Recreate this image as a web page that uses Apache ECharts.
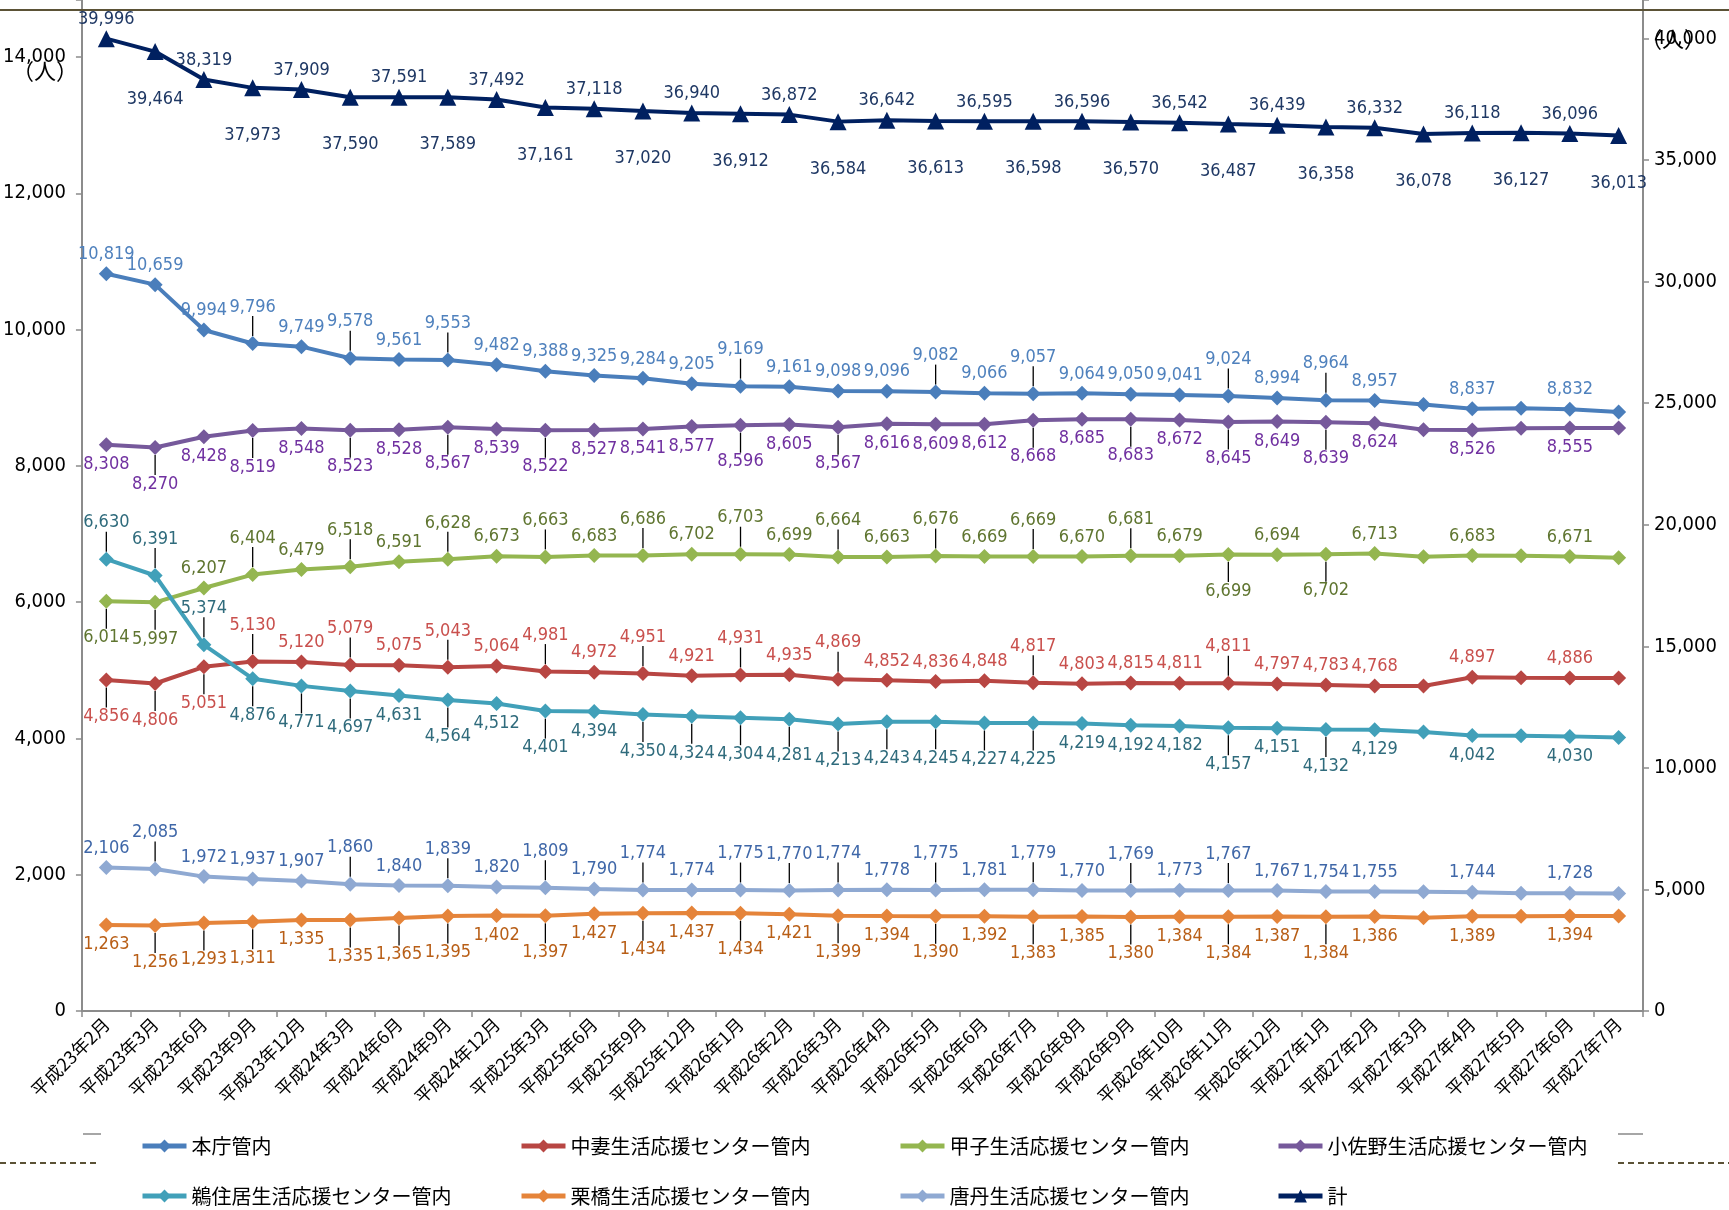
<!DOCTYPE html>
<html><head><meta charset="utf-8">
<script src="https://cdn.jsdelivr.net/npm/echarts@6/dist/echarts.min.js"></script>
<style>html,body{margin:0;padding:0;background:#fff}#c{width:1729px;height:1210px}</style>
</head><body><div id="c"></div>
<script>
const categories = ['平成23年2月','平成23年3月','平成23年6月','平成23年9月','平成23年12月','平成24年3月','平成24年6月','平成24年9月','平成24年12月','平成25年3月','平成25年6月','平成25年9月','平成25年12月','平成26年1月','平成26年2月','平成26年3月','平成26年4月','平成26年5月','平成26年6月','平成26年7月','平成26年8月','平成26年9月','平成26年10月','平成26年11月','平成26年12月','平成27年1月','平成27年2月','平成27年3月','平成27年4月','平成27年5月','平成27年6月','平成27年7月'];
const honcho    = [10819,10659,9994,9796,9749,9578,9561,9553,9482,9388,9325,9284,9205,9169,9161,9098,9096,9082,9066,9057,9064,9050,9041,9024,8994,8964,8957,8900,8837,8845,8832,8790];
const nakazuma  = [4856,4806,5051,5130,5120,5079,5075,5043,5064,4981,4972,4951,4921,4931,4935,4869,4852,4836,4848,4817,4803,4815,4811,4811,4797,4783,4768,4770,4897,4890,4886,4885];
const kasshi    = [6014,5997,6207,6404,6479,6518,6591,6628,6673,6663,6683,6686,6702,6703,6699,6664,6663,6676,6669,6669,6670,6681,6679,6699,6694,6702,6713,6665,6683,6680,6671,6650];
const kosano    = [8308,8270,8428,8519,8548,8523,8528,8567,8539,8522,8527,8541,8577,8596,8605,8567,8616,8609,8612,8668,8685,8683,8672,8645,8649,8639,8624,8530,8526,8552,8555,8555];
const unosumai  = [6630,6391,5374,4876,4771,4697,4631,4564,4512,4401,4394,4350,4324,4304,4281,4213,4243,4245,4227,4225,4219,4192,4182,4157,4151,4132,4129,4093,4042,4040,4030,4014];
const kurihashi = [1263,1256,1293,1311,1335,1335,1365,1395,1402,1397,1427,1434,1437,1434,1421,1399,1394,1390,1392,1383,1385,1380,1384,1384,1387,1384,1386,1370,1389,1392,1394,1393];
const toni      = [2106,2085,1972,1937,1907,1860,1840,1839,1820,1809,1790,1774,1774,1775,1770,1774,1778,1775,1781,1779,1770,1769,1773,1767,1767,1754,1755,1750,1744,1728,1728,1726];
const total     = [39996,39464,38319,37973,37909,37590,37591,37589,37492,37161,37118,37020,36940,36912,36872,36584,36642,36613,36595,36598,36596,36570,36542,36487,36439,36358,36332,36078,36118,36127,36096,36013];
const seriesNames = ['本庁管内','中妻生活応援センター管内','甲子生活応援センター管内','小佐野生活応援センター管内','鵜住居生活応援センター管内','栗橋生活応援センター管内','唐丹生活応援センター管内','計'];
const leftTicks = [0,2000,4000,6000,8000,10000,12000,14000];
const rightTicks = [0,5000,10000,15000,20000,25000,30000,35000,40000];

// label placement codes (style): a=above, A=above far w/ leader, b=below, B=below far, -=none
const codes = {
  honcho:   'aaaAaAaAaa'+'aaaAaaaAaA'+'aaaAaAa-a-'+'a-',
  nakazuma: 'BBBAaAaAaA'+'aAaAaAaaaA'+'aaaAaaa-a-'+'a-',
  kasshi:   'BBaAaAaAaA'+'aAaAaAaAaA'+'aAaBaBa-a-'+'a-',
  kosano:   'bBbBbBbBbB'+'bbbBbBbbbB'+'bBbBbBb-b-'+'b-',
  unosumai: 'AAABBBbBbB'+'bBBBBBBBBB'+'bbbBbBb-b-'+'b-',
  kurihashi:'bBBBbBBBbB'+'bBbBbBbBbB'+'bBbBbBb-b-'+'b-',
  toni:     'aAaaaAaAaA'+'aAaAAAaAaA'+'aAaAaaa-a-'+'a-',
  total:    'abababababababababababababababab'
};

const NUMFONT = '"Liberation Sans Narrow","DejaVu Sans Condensed","Roboto Condensed","Liberation Sans",sans-serif';
const JPFONT = '"Noto Sans CJK JP",sans-serif';
const fmt = v => v.toLocaleString('en-US');

function mk(name, data, code, color, labelColor, symbol, symbolSize, yAxisIndex, distTop, distBottom) {
  const FAR = 17;
  return {
    name, type: 'line', yAxisIndex, symbol, symbolSize,
    lineStyle: {color, width: 4},
    itemStyle: {color},
    data: data.map((v, i) => {
      const c = code[i];
      if (c === '-') return {value: v, label: {show: false}};
      const up = (c === 'a' || c === 'A');
      const far = (c === 'A' || c === 'B');
      return {value: v, label: {show: true, position: up ? 'top' : 'bottom', distance: up ? distTop : distBottom},
              labelLine: {show: far}};
    }),
    label: {show: true, color: labelColor, fontFamily: NUMFONT, fontSize: 18, formatter: p => fmt(p.value)},
    labelLine: {show: false, lineStyle: {color: '#000', width: 1.3}},
    labelLayout: p => {
      const c = code[p.dataIndex];
      if (c === 'A') return {dy: -FAR};
      if (c === 'B') return {dy: FAR};
      return {};
    },
    z: 2
  };
}

const legendCols = [135, 514, 893, 1271];
const legendRows = [1131, 1181];
const legends = seriesNames.map((n, i) => ({
  data: [n], left: legendCols[i % 4], top: legendRows[Math.floor(i / 4)],
  itemWidth: 44, itemHeight: 16, itemGap: 0,
  lineStyle: {width: 5},
  textStyle: {fontFamily: JPFONT, fontSize: 20, color: '#000'}
}));

const chart = echarts.init(document.getElementById('c'), null, {renderer: 'canvas'});
const leftMax = 14836, rightMax = 41587;
const axisLineStyle = {color: '#8c8c8c', width: 2};
chart.setOption({
  animation: false,
  backgroundColor: '#fff',
  grid: {left: 80, right: 86, top: 0, bottom: 199},
  xAxis: {
    type: 'category', data: categories, boundaryGap: true,
    axisLine: {lineStyle: axisLineStyle},
    axisTick: {show: true, length: 6, lineStyle: {color: '#8c8c8c', width: 1.5}},
    axisLabel: {rotate: 45, interval: 0, margin: 10, color: '#000', fontFamily: JPFONT, fontSize: 18}
  },
  yAxis: [{
    type: 'value', min: 0, max: leftMax, interval: 2000, position: 'left',
    axisLine: {show: true, lineStyle: axisLineStyle},
    axisTick: {show: true, length: 6, lineStyle: {color: '#8c8c8c', width: 1.5}},
    splitLine: {show: false},
    axisLabel: {margin: 16, color: '#000', fontFamily: NUMFONT, fontSize: 20,
      formatter: v => leftTicks.includes(v) ? fmt(v) : ''}
  }, {
    type: 'value', min: 0, max: rightMax, interval: 5000, position: 'right',
    axisLine: {show: true, lineStyle: axisLineStyle},
    axisTick: {show: true, length: 6, lineStyle: {color: '#8c8c8c', width: 1.5}},
    splitLine: {show: false},
    axisLabel: {margin: 11, color: '#000', fontFamily: NUMFONT, fontSize: 20,
      formatter: v => rightTicks.includes(v) ? fmt(v) : ''}
  }],
  legend: legends,
  series: [
    mk(seriesNames[0], honcho, codes.honcho, '#4a7ebb', '#4f81bd', 'diamond', 15, 0, 3, 3),
    mk(seriesNames[1], nakazuma, codes.nakazuma, '#b84643', '#c9504d', 'diamond', 15, 0, 3, 3),
    mk(seriesNames[2], kasshi, codes.kasshi, '#94b650', '#5f7530', 'diamond', 15, 0, 3, 3),
    mk(seriesNames[3], kosano, codes.kosano, '#76599b', '#7030a0', 'diamond', 15, 0, 3, 3),
    mk(seriesNames[4], unosumai, codes.unosumai, '#41a0b9', '#2f6b7c', 'diamond', 15, 0, 3, 3),
    mk(seriesNames[5], kurihashi, codes.kurihashi, '#e5843a', '#b85e16', 'diamond', 15, 0, 3, 3),
    mk(seriesNames[6], toni, codes.toni, '#8fa9d2', '#3f67a8', 'diamond', 15, 0, 3, 3),
    mk(seriesNames[7], total, codes.total, '#002060', '#1f3864', 'triangle', 17, 1, 2, 30)
  ],
  graphic: [
    {type: 'line', shape: {x1: 0, y1: 10, x2: 1729, y2: 10}, style: {stroke: '#5b5236', lineWidth: 2}, z: 10},
    {type: 'line', shape: {x1: 0, y1: 1163, x2: 99, y2: 1163}, style: {stroke: '#5b5236', lineWidth: 2, lineDash: [6, 4]}},
    {type: 'line', shape: {x1: 1618, y1: 1163, x2: 1729, y2: 1163}, style: {stroke: '#5b5236', lineWidth: 2, lineDash: [6, 4]}},
    {type: 'line', shape: {x1: 83, y1: 1134, x2: 101, y2: 1134}, style: {stroke: '#a6a6a6', lineWidth: 2}},
    {type: 'line', shape: {x1: 1618, y1: 1134, x2: 1643, y2: 1134}, style: {stroke: '#a6a6a6', lineWidth: 2}},
    {type: 'text', left: 12, top: 60, style: {text: '（人）', font: '22px "Noto Sans CJK JP"', fill: '#000'}},
    {type: 'text', left: 1640, top: 28, style: {text: '（人）', font: '22px "Noto Sans CJK JP"', fill: '#000'}}
  ]
});
</script></body></html>
